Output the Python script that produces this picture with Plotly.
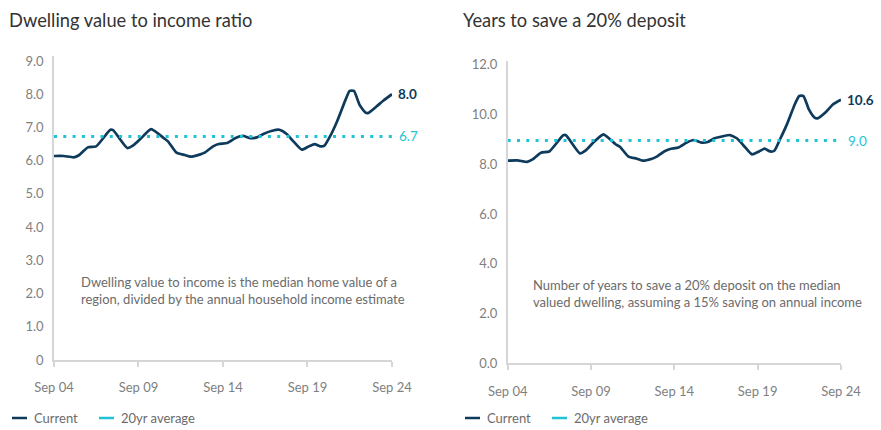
import plotly.graph_objects as go

# ---------------- data ----------------
dates = ["2004-09-01", "2005-04-01", "2005-11-01", "2006-03-01", "2006-09-01", "2007-03-01",
         "2008-01-01", "2008-03-01", "2009-01-01", "2009-05-01", "2009-11-01", "2010-06-01",
         "2011-03-01", "2011-06-01", "2011-12-01", "2012-06-01", "2012-10-01", "2013-05-01",
         "2013-08-01", "2014-02-01", "2014-06-01", "2014-12-01", "2015-06-01", "2015-11-01",
         "2016-04-01", "2016-09-01", "2017-02-01", "2017-08-01", "2018-01-01", "2018-06-01",
         "2018-11-01", "2019-05-01", "2019-10-01", "2020-02-01", "2020-06-01", "2020-09-01",
         "2021-01-01", "2021-06-01", "2021-12-01", "2022-03-01", "2022-06-01", "2022-10-01",
         "2023-02-01", "2023-04-01", "2023-10-01", "2024-03-01", "2024-09-01"]

ratio_current = [6.14, 6.14, 6.10, 6.17, 6.40, 6.43, 6.93, 6.92, 6.38, 6.45, 6.68, 6.95,
                 6.68, 6.58, 6.24, 6.17, 6.12, 6.19, 6.24, 6.43, 6.50, 6.53, 6.68, 6.75,
                 6.68, 6.70, 6.81, 6.90, 6.93, 6.81, 6.58, 6.33, 6.43, 6.50, 6.43, 6.45,
                 6.73, 7.18, 7.83, 8.10, 8.10, 7.68, 7.45, 7.43, 7.63, 7.81, 8.00]
ratio_avg = 6.73

years_current = [8.15, 8.16, 8.10, 8.20, 8.47, 8.52, 9.17, 9.17, 8.44, 8.55, 8.90, 9.21,
                 8.80, 8.70, 8.31, 8.23, 8.15, 8.23, 8.30, 8.53, 8.62, 8.68, 8.88, 8.98,
                 8.88, 8.90, 9.05, 9.13, 9.18, 9.05, 8.75, 8.40, 8.52, 8.63, 8.52, 8.55,
                 9.00, 9.60, 10.45, 10.75, 10.75, 10.20, 9.88, 9.85, 10.10, 10.40, 10.60]
years_avg = 8.96

tick_dates = ["2004-09-01", "2009-09-01", "2014-09-01", "2019-09-01", "2024-09-01"]
tick_labels = ["Sep 04", "Sep 09", "Sep 14", "Sep 19", "Sep 24"]

left_yticks = [0, 1, 2, 3, 4, 5, 6, 7, 8, 9]
left_ylabels = ["0", "1.0", "2.0", "3.0", "4.0", "5.0", "6.0", "7.0", "8.0", "9.0"]
right_yticks = [0, 2, 4, 6, 8, 10, 12]

titles = ["Dwelling value to income ratio", "Years to save a 20% deposit"]
notes = ["Dwelling value to income is the median home value of a<br>region, divided by the annual household income estimate",
         "Number of years to save a 20% deposit on the median<br>valued dwelling, assuming a 15% saving on annual income"]
series_names = ["Current", "20yr average"]

# ---------------- style ----------------
W, H = 881, 430
FONT = "Lato"
NAVY = "#0e3a5c"
CYAN = "#1fc3d5"
AXIS = "#d6d6d6"
TICK = "#7f7f7f"
NOTE = "#6b6b6b"

def px(x):
    return x / W

def py(y):
    return 1 - y / H

fig = go.Figure()

panels = [
    dict(cur=ratio_current, avg=ratio_avg, xa="x", ya="y"),
    dict(cur=years_current, avg=years_avg, xa="x2", ya="y2"),
]
for p in panels:
    fig.add_trace(go.Scatter(x=dates, y=p["cur"], mode="lines", name=series_names[0],
                             line=dict(color=NAVY, width=2.7, shape="spline", smoothing=0.5),
                             xaxis=p["xa"], yaxis=p["ya"], showlegend=False, hoverinfo="x+y"))
    fig.add_trace(go.Scatter(x=[dates[0], dates[-1]], y=[p["avg"], p["avg"]], mode="lines",
                             name=series_names[1],
                             line=dict(color=CYAN, width=3, dash="3px,6.3px"),
                             xaxis=p["xa"], yaxis=p["ya"], showlegend=False))

xcommon = dict(type="date", range=[dates[0], dates[-1]], tickvals=tick_dates, ticktext=tick_labels,
               showgrid=False, zeroline=False, showline=True, linecolor=AXIS, linewidth=1.5,
               ticks="outside", ticklen=5, tickcolor=AXIS, tickwidth=1.5,
               tickfont=dict(family=FONT, size=13, color=TICK), ticklabelstandoff=10,
               fixedrange=True, automargin=False)
ycommon = dict(showgrid=False, zeroline=False, showline=True, linecolor=AXIS, linewidth=1.5,
               ticks="", tickfont=dict(family=FONT, size=13, color=TICK), ticklabelstandoff=6,
               fixedrange=True, automargin=False)

fig.update_layout(
    width=W, height=H, margin=dict(l=0, r=0, t=0, b=0, autoexpand=False),
    paper_bgcolor="white", plot_bgcolor="white", showlegend=False,
    xaxis=dict(domain=[px(54), px(392)], anchor="y", **xcommon),
    yaxis=dict(domain=[py(360), py(56)], anchor="x", range=[0, 9.15],
               tickvals=left_yticks, ticktext=left_ylabels, **ycommon),
    xaxis2=dict(domain=[px(507.7), px(841)], anchor="y2", **xcommon),
    yaxis2=dict(domain=[py(363.3), py(60.7)], anchor="x2", range=[0, 12.17],
                tickvals=right_yticks, tickformat=".1f", **ycommon),
)

annotations = []
# titles
for t, x0 in zip(titles, [7, 461]):
    annotations.append(dict(text=t, xref="paper", yref="paper", x=px(x0), y=py(20),
                            xanchor="left", yanchor="middle", showarrow=False,
                            font=dict(family=FONT, size=18.3, color="#333333")))
# notes
for n, x0, y0 in zip(notes, [79, 531], [290, 293]):
    annotations.append(dict(text=n, xref="paper", yref="paper", x=px(x0), y=py(y0),
                            xanchor="left", yanchor="middle", align="left", showarrow=False,
                            font=dict(family=FONT, size=13, color=NOTE)))
# end labels
for p in panels:
    annotations.append(dict(text=f"{p['cur'][-1]:.1f}", xref=p["xa"], yref=p["ya"],
                            x=dates[-1], y=p["cur"][-1], xanchor="left", yanchor="middle",
                            xshift=4, showarrow=False,
                            font=dict(family=FONT, size=13.5, color=NAVY, weight=700)))
    annotations.append(dict(text=f"{p['avg']:.1f}", xref=p["xa"], yref=p["ya"],
                            x=dates[-1], y=p["avg"], xanchor="left", yanchor="middle",
                            xshift=5, showarrow=False,
                            font=dict(family=FONT, size=13.5, color=CYAN)))

# legends (drawn as short swatches + labels)
shapes = []
for base in [12, 465]:
    for i, (name, col) in enumerate(zip(series_names, [NAVY, CYAN])):
        x0 = base + i * 87
        shapes.append(dict(type="line", xref="paper", yref="paper",
                           x0=px(x0), x1=px(x0 + 15), y0=py(418), y1=py(418),
                           line=dict(color=col, width=2.5)))
        annotations.append(dict(text=name, xref="paper", yref="paper", x=px(x0 + 20), y=py(418),
                                xanchor="left", yanchor="middle", showarrow=False,
                                font=dict(family=FONT, size=13, color=NOTE)))

fig.update_layout(annotations=annotations, shapes=shapes)
fig.write_html("out.html", config={"displayModeBar": False},
               post_script="document.body.style.margin='0';document.body.style.overflow='hidden';")
